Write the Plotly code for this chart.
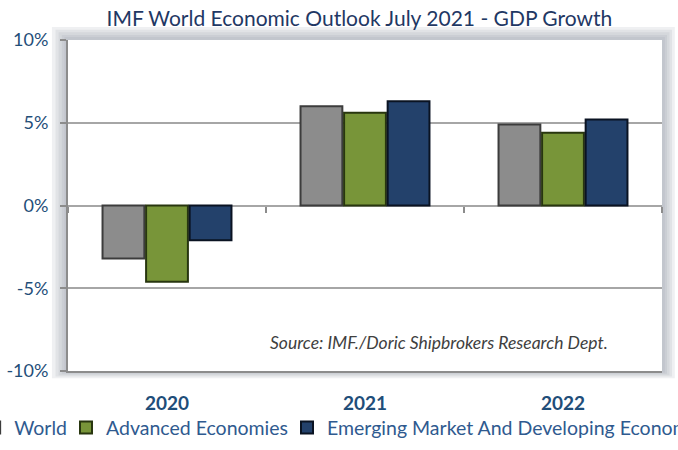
import plotly.graph_objects as go

years = ["2020", "2021", "2022"]
world = [-3.2, 6.0, 4.9]
advanced = [-4.6, 5.6, 4.4]
emerging = [-2.1, 6.3, 5.2]
series_names = ["World", "Advanced Economies", "Emerging Market And Developing Economies"]
y_ticks = [-10, -5, 0, 5, 10]
y_tick_labels = ["-10%", "-5%", "0%", "5%", "10%"]

FONT = "Lato"
fig = go.Figure()
styles = [("#8C8C8C", "#3C3C3C"), ("#789539", "#28360F"), ("#23416B", "#0A1322")]
legends = ["legend", "legend2", "legend3"]
for name, vals, (fc, lc), lg in zip(series_names, [world, advanced, emerging], styles, legends):
    fig.add_trace(go.Bar(x=years, y=vals, name=name, legend=lg,
                         marker=dict(color=fc, line=dict(color=lc, width=2))))

# invisible trace to carry category tick marks on the zero line
fig.add_trace(go.Scatter(x=years, y=[0, 0, 0], xaxis="x2", yaxis="y",
                         mode="markers", marker=dict(opacity=0), showlegend=False,
                         hoverinfo="skip"))

# soft shadow around plot area, then white plot face
shapes = []
for pad in [0.036, 0.028, 0.021, 0.014, 0.008]:
    shapes.append(dict(type="rect", xref="paper", yref="paper",
                       x0=-pad * 0.75, x1=1 + pad * 0.6, y0=-pad * 0.6, y1=1 + pad * 1.1,
                       fillcolor="rgba(140,148,160,0.14)", line=dict(width=0), layer="below"))
shapes.append(dict(type="rect", xref="paper", yref="paper", x0=0, x1=1, y0=0, y1=1,
                   fillcolor="white", line=dict(width=0), layer="below"))

leg_common = dict(orientation="h", xanchor="left", yanchor="middle", y=-0.172,
                  font=dict(family=FONT, size=19.5, color="#2F5A8F"),
                  bgcolor="rgba(0,0,0,0)", itemwidth=30)

fig.update_layout(
    width=678, height=450,
    margin=dict(l=68, r=16, t=40, b=79, autoexpand=False),
    paper_bgcolor="white", plot_bgcolor="white",
    barmode="group", bargap=0.34, bargroupgap=0.04,
    title=dict(text="IMF World Economic Outlook July 2021 - GDP Growth",
               x=0.53, xanchor="center", y=0.975, yanchor="top",
               font=dict(family=FONT, size=21, color="#1F3864")),
    font=dict(family=FONT),
    xaxis=dict(type="category", showgrid=False, showline=True, linecolor="#8C8C8C", linewidth=2,
               ticks="", tickfont=dict(family=FONT, size=19, color="#1F4E79", weight="bold"),
               ticklabelstandoff=14, mirror=False),
    xaxis2=dict(type="category", overlaying="x", anchor="free", position=0.5,
                range=[-0.5, 2.5],
                tickson="boundaries", ticks="outside", ticklen=6, tickcolor="#8C8C8C",
                tickwidth=1.5, showticklabels=False, showgrid=False, showline=False,
                side="bottom"),
    yaxis=dict(range=[-10, 10], tickvals=y_ticks, ticktext=y_tick_labels,
               showgrid=True, gridcolor="#A6A6A6", gridwidth=1.5, zeroline=False,
               showline=True, linecolor="#8C8C8C", linewidth=2,
               ticks="outside", ticklen=6, tickcolor="#8C8C8C", tickwidth=1.5,
               ticklabelstandoff=8,
               tickfont=dict(family=FONT, size=18, color="#1F4E79")),
    legend=dict(x=-0.158, **leg_common),
    legend2=dict(x=-0.0034, **leg_common),
    legend3=dict(x=0.3687, **leg_common),
    annotations=[dict(text="<i>Source: IMF./Doric Shipbrokers Research Dept.</i>",
                      xref="paper", yref="paper", x=0.912, y=0.085, xanchor="right", yanchor="middle",
                      showarrow=False, font=dict(family=FONT, size=17.5, color="#404040"))],
    shapes=shapes,
)

fig.write_html("out.html")
